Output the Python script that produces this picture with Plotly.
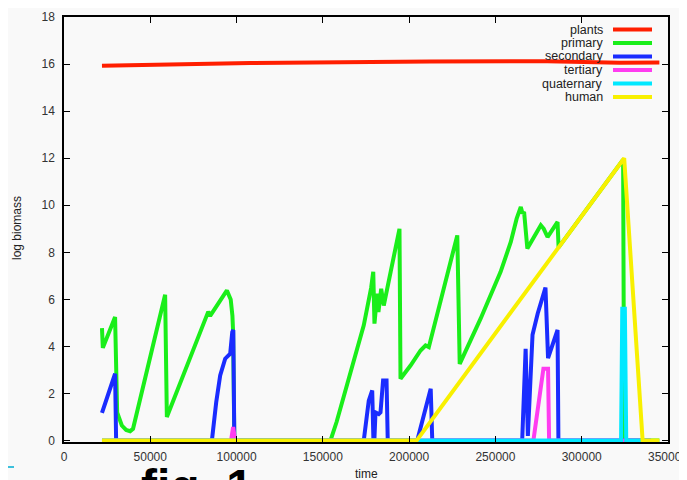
import plotly.graph_objects as go

# ---------------- data ----------------
plants_t = [22000, 108000, 212000, 280000, 322000, 345000]
plants_v = [15.93, 16.04, 16.11, 16.12, 16.06, 16.07]

primary_t = [22000, 22500, 29600, 30200, 30800, 33500, 36000, 38300, 40000, 58600, 59600,
             83600, 84700, 94400, 96600, 97600, 98000, 98700,
             154400, 158000, 166000, 173700, 178000, 179200, 179900, 181500, 182200, 183800,
             185300, 194400, 195000, 200800, 206600, 209500, 211400, 227900, 229300, 241400,
             253000, 258900, 262300, 264700, 265700, 266600, 268500, 276300, 278000, 280200,
             286000, 286600, 324000, 324300, 324600, 345000]
primary_v = [4.78, 3.94, 5.25, 2.8, 1.2, 0.64, 0.45, 0.4, 0.5, 6.2, 1.0,
             5.48, 5.3, 6.38, 6.0, 5.3, 4.6, 0.0,
             0.0, 0.8, 2.9, 4.9, 6.5, 7.17, 4.97, 6.24, 5.46, 6.45,
             5.74, 9.0, 2.63, 3.19, 3.83, 4.04, 3.97, 8.72, 3.26, 5.18,
             7.17, 8.44, 9.43, 9.93, 9.65, 9.72, 8.16, 9.15, 9.0, 8.65,
             9.29, 8.21, 11.94, 5.6, 0.0, 0.0]

secondary_t = [22000, 26700, 29600, 30200,
               85700, 88200, 90500, 93400, 95400, 96300, 97500, 98100, 98700,
               173700, 176600, 178600, 179500, 180500, 182400, 183400, 184900, 186900, 187600,
               204700, 212500, 213400,
               265500, 267500, 268800, 270000, 271500, 274500, 277300, 279000, 280500, 286000,
               286500, 340000]
secondary_v = [1.18, 2.27, 2.84, 0.0,
               0.0, 1.63, 2.77, 3.48, 3.62, 3.69, 4.61, 4.7, 0.0,
               0.0, 1.7, 2.13, -0.6, 1.2, 1.13, 1.2, 2.55, 2.55, 0.0,
               0.0, 2.2, 0.0,
               0.0, 3.9, 0.2, 2.5, 4.5, 5.4, 6.1, 6.5, 3.5, 4.7,
               0.0, 0.0]

tertiary_t = [22000, 96800, 98000, 99200, 272000, 276300, 277800, 280500, 281100, 340000]
tertiary_v = [0.0, 0.0, 0.57, 0.0, 0.0, 2.06, 3.05, 3.05, 0.0, 0.0]

quaternary_t = [22000, 322800, 323500, 325000, 325800, 340000]
quaternary_v = [0.0, 0.0, 5.6, 5.6, 0.0, 0.0]

human_t = [22000, 204300, 324600, 335300, 345000]
human_v = [0.0, 0.0, 12.0, 0.0, 0.0]

series_names = ["plants", "primary", "secondary", "tertiary", "quaternary", "human"]
series_colors = ["#ff1e00", "#1aee1a", "#1a2cff", "#ff3cf0", "#00e8ff", "#f8f000"]

x_ticks = [0, 50000, 100000, 150000, 200000, 250000, 300000, 350000]
y_ticks = [0, 2, 4, 6, 8, 10, 12, 14, 16, 18]

# ---------------- figure ----------------
# the page body has an 8px margin, so the figure is placed 8px right/down
OFF = 8
W, H = 687 - OFF, 480 - OFF
ML, MT = 64 - OFF, 17 - OFF
PW, PH = 604, 425
MR = W - ML - PW
MB = H - MT - PH

def px_x(px):
    # reference (window) pixel -> paper coordinate
    return (px - OFF - ML) / PW

def px_y(py):
    return (H - MB - (py - OFF)) / PH

fig = go.Figure()
all_series = [(plants_t, plants_v), (primary_t, primary_v), (secondary_t, secondary_v),
              (tertiary_t, tertiary_v), (quaternary_t, quaternary_v), (human_t, human_v)]
for (t, v), name, col in zip(all_series, series_names, series_colors):
    fig.add_trace(go.Scatter(x=t, y=v, mode="lines", name=name,
                             line=dict(color=col, width=4), showlegend=False))

font_main = "Liberation Sans, Arial, sans-serif"

annotations = []
shapes = []
# custom gnuplot-style legend (text right-aligned, sample on the right)
row_y = [29.5, 43, 56.5, 70, 83.5, 97]
for name, col, ry in zip(series_names, series_colors, row_y):
    annotations.append(dict(x=px_x(605), y=px_y(ry), xref="paper", yref="paper",
                            text=name, showarrow=False, xanchor="right", yanchor="middle",
                            font=dict(family=font_main, size=12.5, color="#222")))
    shapes.append(dict(type="line", xref="paper", yref="paper",
                       x0=px_x(613), x1=px_x(652), y0=px_y(ry), y1=px_y(ry),
                       line=dict(color=col, width=4)))

# axis titles
annotations.append(dict(x=px_x(17), y=px_y(228), xref="paper", yref="paper",
                        text="log biomass", showarrow=False, textangle=-90,
                        xanchor="center", yanchor="middle",
                        font=dict(family=font_main, size=12, color="#222")))
annotations.append(dict(x=px_x(366), y=px_y(474), xref="paper", yref="paper",
                        text="time", showarrow=False, xanchor="center", yanchor="middle",
                        font=dict(family=font_main, size=12, color="#222")))
# slide caption, cut by the bottom edge
annotations.append(dict(x=px_x(139), y=px_y(458), xref="paper", yref="paper",
                        text="<b>fig. 1</b>", showarrow=False, xanchor="left", yanchor="top",
                        font=dict(family=font_main, size=48, color="#000")))
# small decorative cyan rule at bottom-left of the slide
shapes.append(dict(type="line", xref="paper", yref="paper",
                   x0=px_x(8), x1=px_x(14), y0=px_y(467), y1=px_y(467),
                   line=dict(color="#3cc0dc", width=2)))

axis_common = dict(showline=True, linecolor="#000", linewidth=1.5, mirror="ticks",
                   ticks="inside", ticklen=6, tickwidth=1.3, tickcolor="#000",
                   showgrid=False, zeroline=False, ticklabeloverflow="allow",
                   tickfont=dict(family=font_main, size=12, color="#333"))

fig.update_layout(
    width=W, height=H,
    margin=dict(l=ML, r=MR, t=MT, b=MB, autoexpand=False),
    paper_bgcolor="#f9f9f9", plot_bgcolor="#f9f9f9",
    xaxis=dict(range=[0, 350000], tickvals=x_ticks,
               ticktext=[str(v) for v in x_ticks], ticklabelstandoff=3, **axis_common),
    yaxis=dict(range=[-0.06, 18], tickvals=y_ticks,
               ticktext=[str(v) for v in y_ticks], ticklabelstandoff=5, **axis_common),
    annotations=annotations, shapes=shapes, showlegend=False,
)

fig.write_html("out.html")
